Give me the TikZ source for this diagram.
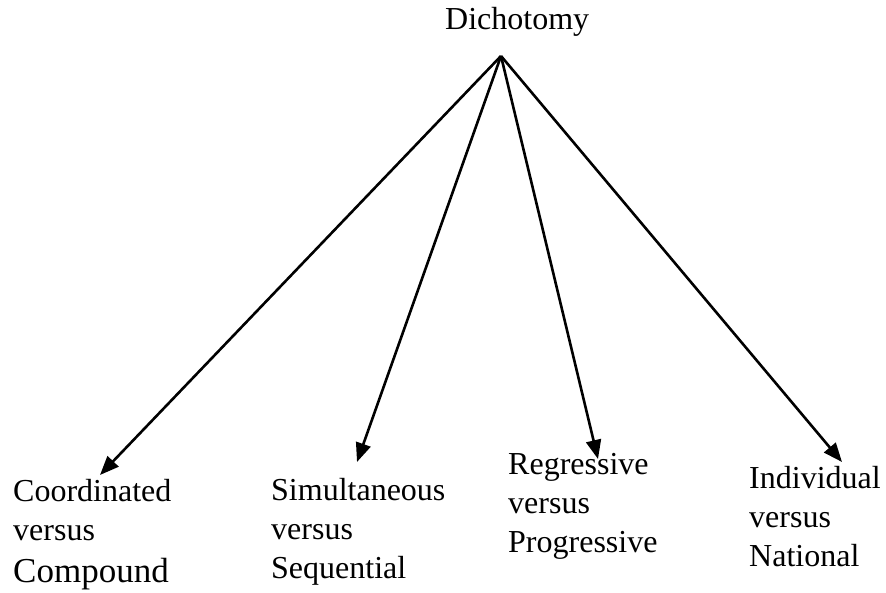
\documentclass[tikz,border=0pt]{standalone}
\usepackage{fontspec}
\setmainfont{Liberation Serif}
\usetikzlibrary{arrows.meta}
\begin{document}
\begin{tikzpicture}[x=1pt,y=-1pt,
  label/.style={inner sep=0pt,anchor=base west,align=left,
    font=\fontsize{32}{39}\selectfont},
  branch/.style={line width=2.6pt,-{Triangle[length=19pt,width=15pt]}}]
\useasboundingbox (0,0) rectangle (886,593);
% root of the tree
\node[inner sep=0pt,anchor=base west,font=\fontsize{32}{39}\selectfont] (root) at (445,30) {Dichotomy};
\coordinate (apex) at (501,56);
% the four dichotomies (anchored at the baseline of the last line)
\node[label] (coord) at (13,582) {Coordinated\\versus\\[3pt]{\fontsize{35}{39}\selectfont Compound}};
\node[label] (simul) at (271,578) {Simultaneous\\versus\\Sequential};
\node[label] (regr) at (508,552) {Regressive\\versus\\Progressive};
\node[label] (indiv) at (749,566) {Individual\\versus\\National};
% arrow tips
\coordinate (tcoord) at (100,475);
\coordinate (tsimul) at (357,462);
\coordinate (tregr) at (598,459);
\coordinate (tindiv) at (842,462);
\draw[branch] (apex) -- (tcoord);
\draw[branch] (apex) -- (tsimul);
\draw[branch] (apex) -- (tregr);
\draw[branch] (apex) -- (tindiv);
\end{tikzpicture}
\end{document}
